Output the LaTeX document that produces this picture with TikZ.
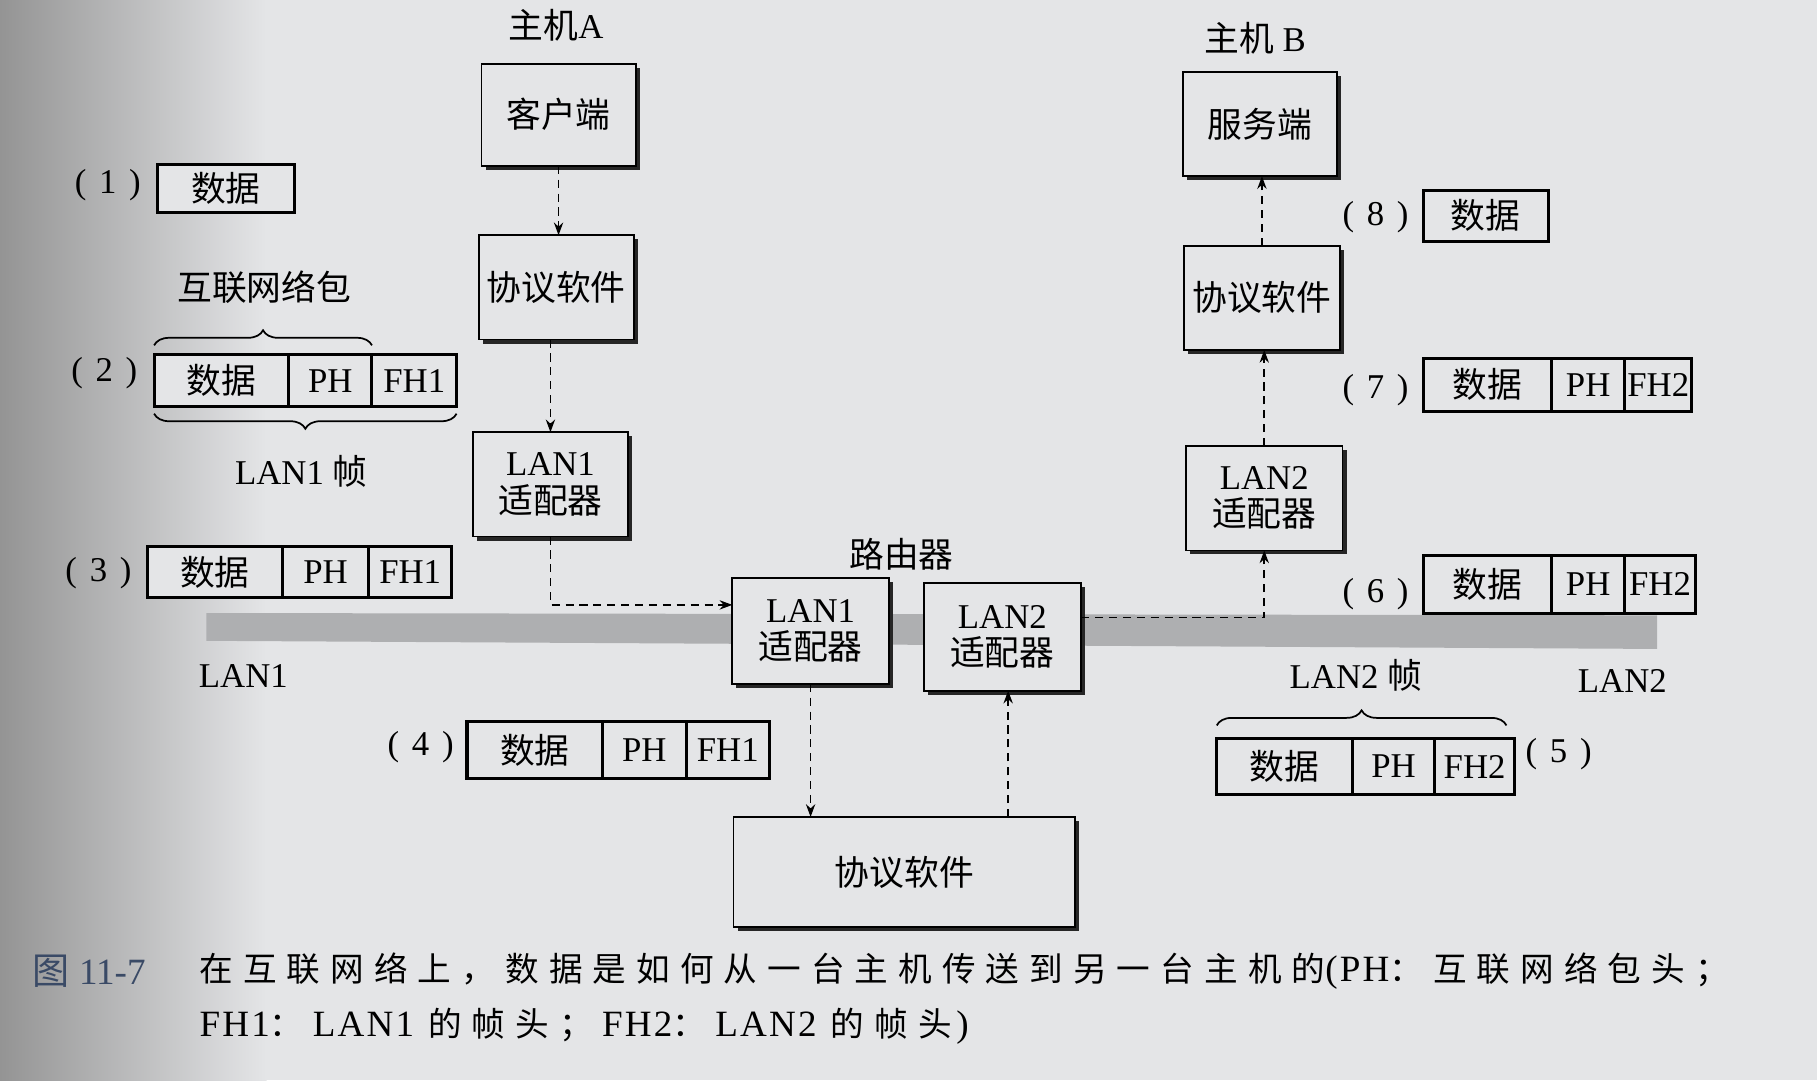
\documentclass[tikz,border=0pt]{standalone}
\usepackage{fontspec}
\setmainfont{Liberation Serif}
\newfontfamily\cjk{Noto Sans CJK SC}
\newfontfamily\cjkcap[LetterSpace=30]{Noto Sans CJK SC}
\newfontfamily\latcap[LetterSpace=6]{Liberation Serif}
\usetikzlibrary{shadows,arrows.meta,decorations.pathreplacing}
\definecolor{paper}{HTML}{E4E5E7}
\definecolor{band}{HTML}{AEAFB1}
\definecolor{capblue}{HTML}{3A4A66}
\newcommand{\zh}[1]{{\cjk #1}}
\newcommand{\lt}[1]{{\fontsize{32}{34}\latcap #1}}
\newcommand{\num}[1]{(\hspace{11pt}#1\hspace{11pt})}
\begin{document}
\begin{tikzpicture}[x=1pt,y=-1pt,
  font=\fontsize{30}{36}\selectfont,
  sbox/.style={draw, line width=1.6pt, fill=paper, align=center, inner sep=0pt, outer sep=0pt,
    drop shadow={shadow xshift=3.5pt, shadow yshift=-3.5pt, fill=black!85, opacity=1}},
  pk/.style={draw, line width=2.6pt, fill=paper, inner sep=0pt, outer sep=0pt},
  arr/.style={dash pattern=on 7pt off 5pt, line width=1.4pt, -{Stealth[length=11pt,width=8pt]}},
  brc/.style={decorate, decoration={brace, amplitude=13pt}, line width=1.5pt},
  lbl/.style={inner sep=0pt}]
\useasboundingbox (0,0) rectangle (1568,932);
\fill[paper] (0,0) rectangle (1568,932);
\shade[left color=black!42, right color=paper] (0,0) rectangle (230,932);
% network band
\fill[band] (178,529) -- (1430,531) -- (1430,560) -- (178,553) -- cycle;

% host A
\node[lbl] (hostA) at (480,22) {\zh{主机}A};
\node[sbox, minimum width=133pt, minimum height=88pt] (cli) at (482,99) {\zh{客户端}};
\node[sbox, minimum width=134pt, minimum height=90pt] (pA) at (480,248) {\zh{协议软件}};
\node[sbox, minimum width=134pt, minimum height=90pt] (lA) at (475,418) {LAN1\\[-4pt]\zh{适配器}};

% router
\node[lbl] (router) at (778,478) {\zh{路由器}};
\node[sbox, minimum width=135pt, minimum height=91pt] (r1) at (699.5,544.5) {LAN1\\[-4pt]\zh{适配器}};
\node[sbox, minimum width=136pt, minimum height=93pt] (r2) at (865,549.5) {LAN2\\[-4pt]\zh{适配器}};
\node[sbox, minimum width=295pt, minimum height=95pt] (rp) at (780.5,752.5) {\zh{协议软件}};

% host B
\node[lbl] (hostB) at (1083,33) {\zh{主机} B};
\node[sbox, minimum width=133pt, minimum height=90pt] (srv) at (1087,107) {\zh{服务端}};
\node[sbox, minimum width=135pt, minimum height=90pt] (pB) at (1089,257) {\zh{协议软件}};
\node[sbox, minimum width=135pt, minimum height=90pt] (lB) at (1091,430) {LAN2\\[-4pt]\zh{适配器}};

% arrows
\draw[arr] (cli.south) -- (cli.south |- pA.north);
\draw[arr] (pA.south -| lA.north) -- (lA.north);
\draw[arr] (lA.south) |- (r1.west |- 0,522);
\draw[arr] (r1.south) -- (r1.south |- rp.north);
\draw[arr] (rp.north -| 870,0) -- (r2.south -| 870,0);
\draw[arr] (r2.east |- 0,533) -| (lB.south);
\draw[arr] (lB.north) -- (lB.north |- pB.south);
\draw[arr] (pB.north) -- (pB.north |- srv.south);

% LAN labels
\node[lbl] (lan1) at (210,583) {LAN1};
\node[lbl] (lan2) at (1400,588) {LAN2};

% packet (1)
\node[lbl] (n1) at (93,160) {\num{1}};
\node[pk, minimum width=118pt, minimum height=41pt] (k1) at (195,162.5) {\zh{数据}};

% packet (2)
\node[lbl] (ipk) at (228,248) {\zh{互联网络包}};
\node[lbl] (n2) at (90,322) {\num{2}};
\node[pk, minimum width=116pt, minimum height=45pt] (k2a) at (191,328.5) {\zh{数据}};
\node[pk, minimum width=72pt, minimum height=45pt, anchor=west] (k2b) at (k2a.east) {PH};
\node[pk, minimum width=73pt, minimum height=45pt, anchor=west] (k2c) at (k2b.east) {FH1};
\draw[brc] (k2a.north west |- 0,298) -- (k2b.north east |- 0,298);
\draw[brc] (k2c.south east |- 0,357) -- (k2a.south west |- 0,357);
\node[lbl] (f1) at (260,407) {LAN1 \zh{帧}};

% packet (3)
\node[lbl] (n3) at (85,495) {\num{3}};
\node[pk, minimum width=117pt, minimum height=44pt] (k3a) at (185.5,494) {\zh{数据}};
\node[pk, minimum width=74pt, minimum height=44pt, anchor=west] (k3b) at (k3a.east) {PH};
\node[pk, minimum width=72pt, minimum height=44pt, anchor=west] (k3c) at (k3b.east) {FH1};

% packet (4)
\node[lbl] (n4) at (363,645) {\num{4}};
\node[pk, minimum width=117pt, minimum height=49pt] (k4a) at (461.5,647.5) {\zh{数据}};
\node[pk, minimum width=72pt, minimum height=49pt, anchor=west] (k4b) at (k4a.east) {PH};
\node[pk, minimum width=72pt, minimum height=49pt, anchor=west] (k4c) at (k4b.east) {FH1};

% packet (5)
\node[lbl] (f2) at (1170,583) {LAN2 \zh{帧}};
\node[pk, minimum width=117pt, minimum height=49pt] (k5a) at (1108.5,661.5) {\zh{数据}};
\node[pk, minimum width=71pt, minimum height=49pt, anchor=west] (k5b) at (k5a.east) {PH};
\node[pk, minimum width=69pt, minimum height=49pt, anchor=west] (k5c) at (k5b.east) {FH2};
\node[lbl] (n5) at (1345,651) {\num{5}};
\draw[brc] (k5a.north west |- 0,626) -- (1300,626);

% packet (6)
\node[lbl] (n6) at (1187,513) {\num{6}};
\node[pk, minimum width=111pt, minimum height=50pt] (k6a) at (1283.5,504) {\zh{数据}};
\node[pk, minimum width=63pt, minimum height=50pt, anchor=west] (k6b) at (k6a.east) {PH};
\node[pk, minimum width=61pt, minimum height=50pt, anchor=west] (k6c) at (k6b.east) {FH2};

% packet (7)
\node[lbl] (n7) at (1187,337) {\num{7}};
\node[pk, minimum width=111pt, minimum height=46pt] (k7a) at (1283.5,332) {\zh{数据}};
\node[pk, minimum width=63pt, minimum height=46pt, anchor=west] (k7b) at (k7a.east) {PH};
\node[pk, minimum width=58pt, minimum height=46pt, anchor=west] (k7c) at (k7b.east) {FH2};

% packet (8)
\node[lbl] (n8) at (1187,187) {\num{8}};
\node[pk, minimum width=108pt, minimum height=44pt] (k8) at (1282,186) {\zh{数据}};

% caption
\node[lbl, anchor=west, text=capblue, font=\fontsize{32}{36}\selectfont] (capA) at (28,838) {{\cjk 图} 11-7};
\node[lbl, anchor=west, font=\fontsize{29}{34}\selectfont] (capB) at (172,838)
  {{\cjkcap 在互联网络上，数据是如何从一台主机传送到另一台主机的}\lt{(PH}{\cjkcap ：互联网络包头；}};
\node[lbl, anchor=west, font=\fontsize{29}{34}\selectfont] (capC) at (172,886)
  {\lt{FH1}{\cjkcap ：}\hspace{8pt}\lt{LAN1}\hspace{12pt}{\cjkcap 的帧头；}\hspace{8pt}\lt{FH2}{\cjkcap ：}\hspace{8pt}\lt{LAN2}\hspace{12pt}{\cjkcap 的帧头}\hspace{4pt}\lt{)}};
\end{tikzpicture}
\end{document}
